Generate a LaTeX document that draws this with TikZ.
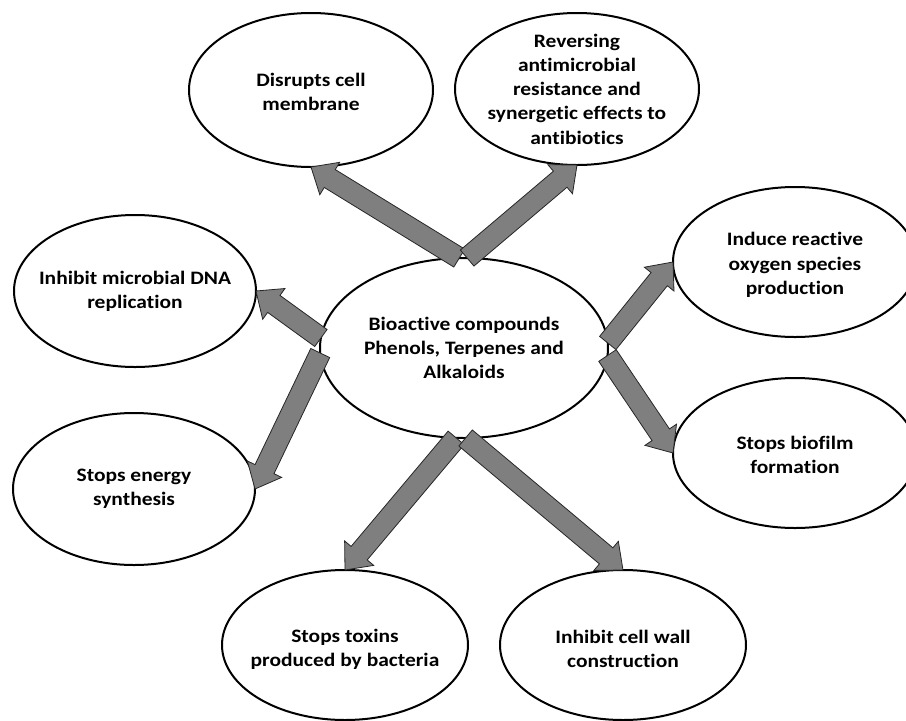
\documentclass[tikz,border=0pt]{standalone}
\usepackage{fontspec}
\setmainfont{Carlito}[Ligatures={NoCommon}, FakeStretch=1.13]
\usetikzlibrary{shapes.geometric,calc}
\definecolor{arrowgray}{HTML}{7F7F7F}
\tikzset{
  bubble/.style={ellipse, draw=black, line width=2pt, fill=white, inner sep=0pt, outer sep=0pt},
  txt/.style={align=center, font=\bfseries\fontsize{19}{24.2}\selectfont, inner sep=0pt},
  fatarrow/.style={fill=arrowgray, draw=black!85, line width=0.8pt, line join=miter},
}
% block arrow from tail point #1 to tip point #2
\newcommand\blockarrow[2]{%
  \coordinate (ba-h) at ($(#2)!22pt!(#1)$);
  \draw[fatarrow] ($(#1)!10.5pt!90:(#2)$) -- ($(ba-h)!10.5pt!90:(#2)$)
    -- ($(ba-h)!19pt!90:(#2)$) -- (#2) -- ($(ba-h)!19pt!-90:(#2)$)
    -- ($(ba-h)!10.5pt!-90:(#2)$) -- ($(#1)!10.5pt!-90:(#2)$) -- cycle;}
\begin{document}
\begin{tikzpicture}[x=1pt,y=-1pt]
\useasboundingbox (0,0) rectangle (906,721);
\clip (0,0) rectangle (906,721);

% ellipses
\node[bubble, minimum width=288pt, minimum height=180pt] (core) at (464,348) {};
\node[bubble, minimum width=244pt, minimum height=154pt] (mem) at (311,90) {};
\node[bubble, minimum width=244pt, minimum height=152pt] (rev) at (577,89) {};
\node[bubble, minimum width=242pt, minimum height=152pt] (dna) at (135,291) {};
\node[bubble, minimum width=242pt, minimum height=152pt] (nrg) at (134,489) {};
\node[bubble, minimum width=244pt, minimum height=150pt] (ros) at (795,262) {};
\node[bubble, minimum width=244pt, minimum height=150pt] (bio) at (795,453) {};
\node[bubble, minimum width=246pt, minimum height=150pt] (tox) at (345,645) {};
\node[bubble, minimum width=246pt, minimum height=150pt] (wall) at (623,645) {};

% labels
\node[txt] (core-t) at (core) {Bioactive compounds\\Phenols, Terpenes and\\Alkaloids};
\node[txt] (mem-t) at ($(mem)+(0,2)$) {Disrupts cell\\membrane};
\node[txt] (rev-t) at (rev) {Reversing\\antimicrobial\\resistance and\\synergetic effects to\\antibiotics};
\node[txt] (dna-t) at (dna) {Inhibit microbial DNA\\replication};
\node[txt] (nrg-t) at (nrg) {Stops energy\\synthesis};
\node[txt] (ros-t) at ($(ros)+(0,3)$) {Induce reactive\\oxygen species\\production};
\node[txt] (bio-t) at ($(bio)+(0,2)$) {Stops biofilm\\formation};
\node[txt] (tox-t) at ($(tox)+(0,4)$) {Stops toxins\\produced by bacteria};
\node[txt] (wall-t) at ($(wall)+(0,4)$) {Inhibit cell wall\\construction};

% arrows
\blockarrow{core.93}{mem.south}
\blockarrow{core.88}{rev.south}
\blockarrow{core.176}{dna.east}
\blockarrow{core.182}{nrg.east}
\blockarrow{core.-3}{bio.west}
\blockarrow{core.2}{ros.west}
\blockarrow{core.265}{tox.north}
\blockarrow{core.271}{wall.north}
\end{tikzpicture}
\end{document}
